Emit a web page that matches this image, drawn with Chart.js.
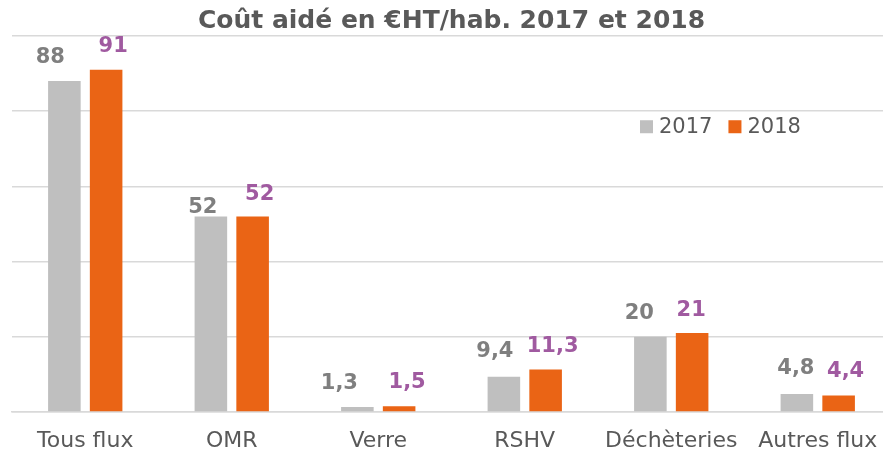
<!DOCTYPE html>
<html><head><meta charset="utf-8">
<script src="https://cdn.jsdelivr.net/npm/chart.js@4/dist/chart.umd.min.js"></script>
<style>html,body{margin:0;padding:0;background:#fff;overflow:hidden;width:883px;height:456px}#wrap{width:891px;height:456px}</style>
</head><body><div id="wrap"><canvas id="c"></canvas></div>
<script>
const categories = ["Tous flux","OMR","Verre","RSHV","Déchèteries","Autres flux"];
const seriesNames = ["2017","2018"];
const values2017 = [88, 52, 1.3, 9.4, 20, 4.8];
const values2018 = [91, 52, 1.5, 11.3, 21, 4.4];
const labels2017 = ["88","52","1,3","9,4","20","4,8"];
const labels2018 = ["91","52","1,5","11,3","21","4,4"];
const yTicks = [0,20,40,60,80,100];

const FONT = "'DejaVu Sans', sans-serif";
const labelPlugin = {
  id:'barLabels',
  afterDatasetsDraw(chart, args, opts){
    const ctx = chart.ctx;
    const lbls = [labels2017, labels2018];
    const cols = ['#7f7f7f','#a05aa0'];
    chart.data.datasets.forEach((ds,i)=>{
      const meta = chart.getDatasetMeta(i);
      meta.data.forEach((bar,j)=>{
        const nx = opts.nudgeX[i][j], ny = opts.nudgeY[i][j];
        ctx.save();
        ctx.font = "bold 21px " + FONT;
        ctx.fillStyle = cols[i];
        ctx.textAlign = 'center';
        ctx.textBaseline = 'alphabetic';
        ctx.fillText(lbls[i][j], bar.x + nx, bar.y - 18 + ny);
        ctx.restore();
      });
    });
    // legend
    const y = chart.scales.y.getPixelForValue(76);
    let x = 640;
    chart.data.datasets.forEach((ds,i)=>{
      ctx.save();
      ctx.fillStyle = ds.backgroundColor;
      ctx.fillRect(x, y-6, 13, 13);
      ctx.font = "21px " + FONT;
      ctx.fillStyle = '#595959';
      ctx.textBaseline = 'middle';
      ctx.textAlign = 'left';
      ctx.fillText(ds.label, x+19, y+1);
      x += 19 + ctx.measureText(ds.label).width + 16;
      ctx.restore();
    });
  }
};

new Chart(document.getElementById('c'), {
  type:'bar',
  data:{
    labels: categories,
    datasets:[
      {label: seriesNames[0], data: values2017, backgroundColor:'#bfbfbf', categoryPercentage:0.57, barPercentage:0.78},
      {label: seriesNames[1], data: values2018, backgroundColor:'#ea6415', categoryPercentage:0.57, barPercentage:0.78}
    ]
  },
  options:{
    responsive:true, maintainAspectRatio:false, animation:false,
    layout:{padding:{left:12,right:0,top:0,bottom:0}},
    plugins:{
      legend:{display:false},
      tooltip:{enabled:false},
      title:{display:true, text:"Coût aidé en €HT/hab. 2017 et 2018", color:'#595959',
        font:{family:FONT, size:25, weight:'bold'}, padding:{top:6,bottom:0}},
      barLabels:{
        nudgeX:[[-14,-8,-18,-9,-11,-1],[7,7,8,7,-1,7]],
        nudgeY:[[0,15,0,-2,0,-2],[0,2,0,0,1,0]]
      }
    },
    scales:{
      x:{grid:{display:false, drawTicks:false}, border:{display:true, color:'#d9d9d9', width:1.5},
        ticks:{color:'#595959', font:{family:FONT, size:22}, padding:16, maxRotation:0, minRotation:0},
        afterFit(s){ s.height = 44; s.paddingLeft = 0; s.paddingRight = 0; }},
      y:{min:0, max:100, afterBuildTicks(ax){ax.ticks = yTicks.map(v=>({value:v}));},
        ticks:{display:false}, border:{display:false},
        grid:{color:'#d9d9d9', lineWidth:1.5, drawTicks:false}}
    }
  },
  plugins:[labelPlugin]
});
</script></body></html>
